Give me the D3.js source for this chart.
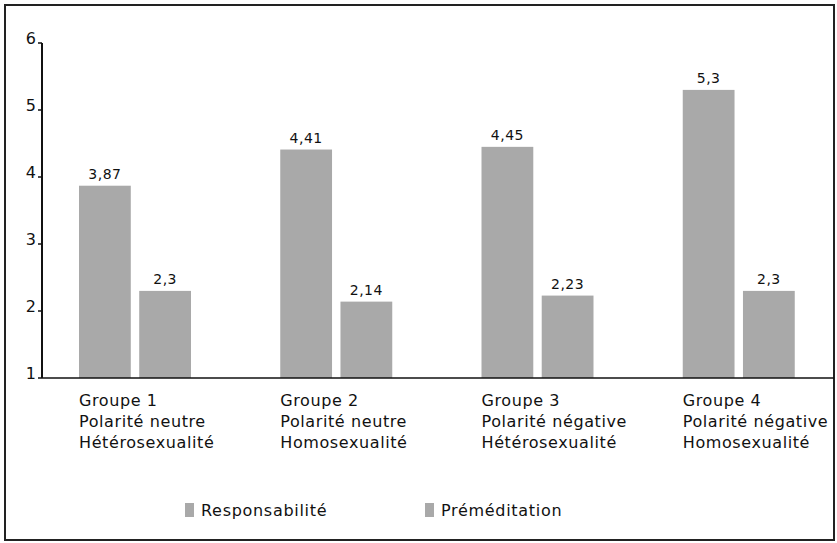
<!DOCTYPE html>
<html>
<head>
<meta charset="utf-8">
<script src="https://cdn.jsdelivr.net/npm/d3@7"></script>
<style>
  html, body { margin: 0; padding: 0; background: #fff; }
  svg { display: block; font-family: "DejaVu Sans", sans-serif; }
</style>
</head>
<body>
<svg id="chart" width="837" height="543"></svg>
<script>
// Group labels (three lines each)
const groups = ["Groupe 1", "Groupe 2", "Groupe 3", "Groupe 4"];
const groupLines = [
  ["Groupe 1", "Polarité neutre", "Hétérosexualité"],
  ["Groupe 2", "Polarité neutre", "Homosexualité"],
  ["Groupe 3", "Polarité négative", "Hétérosexualité"],
  ["Groupe 4", "Polarité négative", "Homosexualité"]
];
const seriesNames = ["Responsabilité", "Préméditation"];
const responsabilite = [3.87, 4.41, 4.45, 5.3];
const premeditation = [2.3, 2.14, 2.23, 2.3];
const yTicks = [1, 2, 3, 4, 5, 6];

const seriesValues = [responsabilite, premeditation];
const barColor = "#a9a9a9";

const svg = d3.select("#chart");

// Outer frame
svg.append("rect")
  .attr("x", 5).attr("y", 5)
  .attr("width", 829).attr("height", 535)
  .attr("fill", "none").attr("stroke", "#222").attr("stroke-width", 2);

const axisX = 42, baseY = 378, topY = 43;

const y = d3.scaleLinear().domain([1, 6]).range([baseY, topY]);
const x0 = d3.scaleBand().domain(groups).range([axisX, axisX + 805]);
const x1 = d3.scaleBand().domain(seriesNames).range([37, 149]).paddingInner(0.14);

const fmt = v => String(v).replace(".", ",");

// Bars
const g = svg.append("g");
groups.forEach((grp, gi) => {
  seriesNames.forEach((s, si) => {
    const v = seriesValues[si][gi];
    const bx = x0(grp) + x1(s);
    g.append("rect")
      .attr("x", bx).attr("y", y(v))
      .attr("width", x1.bandwidth()).attr("height", y(1) - y(v))
      .attr("fill", barColor);
    g.append("text")
      .attr("x", bx + x1.bandwidth() / 2).attr("y", y(v) - 7)
      .attr("text-anchor", "middle")
      .attr("font-size", 14).attr("letter-spacing", 0.5).attr("fill", "#111")
      .text(fmt(v));
  });
});

// Y axis
const yAxis = svg.append("g").attr("transform", `translate(${axisX},0)`);
yAxis.append("line")
  .attr("x1", 0).attr("x2", 0).attr("y1", topY).attr("y2", baseY)
  .attr("stroke", "#111").attr("stroke-width", 2);
yTicks.forEach(t => {
  yAxis.append("line")
    .attr("x1", -4).attr("x2", 0).attr("y1", y(t)).attr("y2", y(t))
    .attr("stroke", "#111").attr("stroke-width", 1.5);
  yAxis.append("text")
    .attr("x", -6).attr("y", y(t) + 1)
    .attr("text-anchor", "end")
    .attr("font-size", 16).attr("fill", "#111")
    .text(t);
});

// X axis line
svg.append("line")
  .attr("x1", axisX).attr("x2", 834).attr("y1", baseY).attr("y2", baseY)
  .attr("stroke", "#111").attr("stroke-width", 1.5);

// Group labels
groups.forEach((grp, gi) => {
  const t = svg.append("text")
    .attr("x", x0(grp) + x1(seriesNames[0]))
    .attr("y", 406)
    .attr("font-size", 16).attr("letter-spacing", 0.6).attr("fill", "#111");
  groupLines[gi].forEach((line, li) => {
    t.append("tspan")
      .attr("x", x0(grp) + x1(seriesNames[0]))
      .attr("dy", li === 0 ? 0 : 21)
      .text(line);
  });
});

// Legend
const legendX = [185, 425];
seriesNames.forEach((s, i) => {
  svg.append("rect")
    .attr("x", legendX[i]).attr("y", 503)
    .attr("width", 9).attr("height", 14)
    .attr("fill", barColor);
  svg.append("text")
    .attr("x", legendX[i] + 16).attr("y", 516)
    .attr("font-size", 16).attr("letter-spacing", 0.7).attr("fill", "#111")
    .text(s);
});
</script>
</body>
</html>
